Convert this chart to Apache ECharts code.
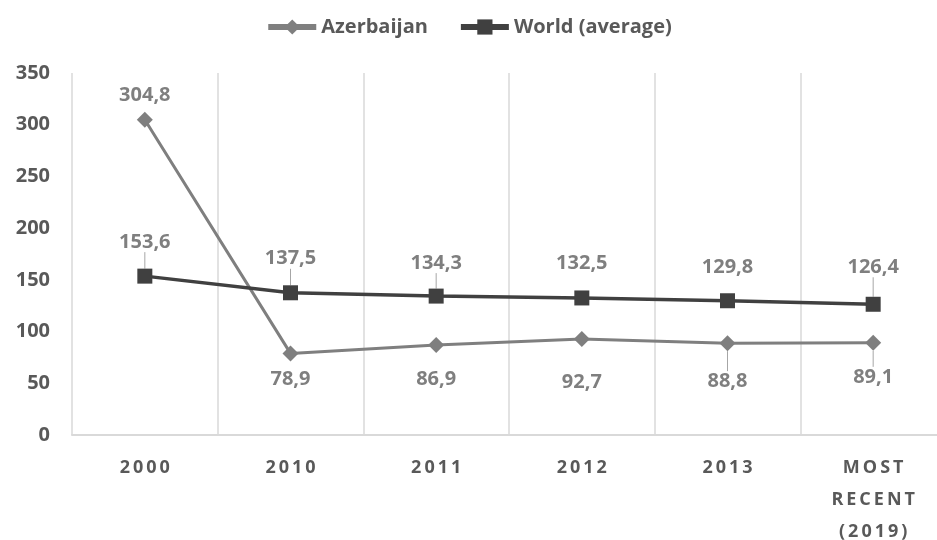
<!DOCTYPE html>
<html>
<head>
<meta charset="utf-8">
<script src="https://cdn.jsdelivr.net/npm/echarts@6/dist/echarts.min.js"></script>
<style>
    html, body { margin: 0; padding: 0; background: #fff; }
    #chart { width: 937px; height: 540px; }
</style>
</head>
<body>
<div id="chart"></div>
<script>
//categories and series values
const years = ["2000", "2010", "2011", "2012", "2013", "MOST\nRECENT\n(2019)"];
const azerbaijan = [304.8, 78.9, 86.9, 92.7, 88.8, 89.1];
const world = [153.6, 137.5, 134.3, 132.5, 129.8, 126.4];

//label offsets (px) and which points keep a leader line
const azOffset = [-24, 26, 34, 43, 38, 34];
const azLeader = [false, false, false, false, true, true];
const worldOffset = [-34, -34, -33, -35, -33, -37];
const worldLeader = [true, true, true, false, false, true];

const font = "'Open Sans', sans-serif";
const comma = v => String(v).replace(".", ",");
const spaced = s => s.split("\n").map(l => l.split("").join("\u2009")).join("\n");

const chart = echarts.init(document.getElementById("chart"));

function pointData(values, leaders) {
    return values.map((v, i) => ({
        value: v,
        labelLine: { show: leaders[i] }
    }));
}

const labelStyle = {
    show: true,
    position: "inside",
    color: "#7f7f7f",
    fontFamily: font,
    fontWeight: "bold",
    fontSize: 20,
    formatter: p => comma(p.value)
};

const option = {
    animation: false,
    legend: {
        top: 12,
        left: "center",
        itemWidth: 48,
        itemHeight: 19,
        itemGap: 30,
        lineStyle: { width: 6 },
        textStyle: { color: "#595959", fontFamily: font, fontWeight: "bold", fontSize: 20 },
        data: ["Azerbaijan", "World (average)"]
    },
    grid: { left: 72, right: -9, top: 73, bottom: 105, outerBoundsMode: "none", containLabel: false },
    xAxis: {
        type: "category",
        data: years,
        boundaryGap: true,
        axisTick: { show: false },
        axisLine: { lineStyle: { color: "#d9d9d9", width: 2 } },
        splitLine: { show: true, lineStyle: { color: "#d9d9d9", width: 1.5 } },
        axisLabel: {
            color: "#595959",
            fontFamily: font,
            fontWeight: "bold",
            fontSize: 18,
            lineHeight: 32,
            margin: 17,
            formatter: v => spaced(v)
        }
    },
    yAxis: {
        type: "value",
        min: 0,
        max: 350,
        interval: 50,
        axisLine: { show: false },
        axisTick: { show: false },
        splitLine: { show: false },
        axisLabel: { color: "#595959", fontFamily: font, fontWeight: "bold", fontSize: 20, margin: 22 }
    },
    series: [
        {
            name: "Azerbaijan",
            type: "line",
            data: pointData(azerbaijan, azLeader),
            symbol: "diamond",
            symbolSize: 16,
            lineStyle: { color: "#7f7f7f", width: 3 },
            itemStyle: { color: "#7f7f7f" },
            label: labelStyle,
            labelLine: { lineStyle: { color: "#a6a6a6", width: 1 } },
            labelLayout: p => ({ dy: azOffset[p.dataIndex] })
        },
        {
            name: "World (average)",
            type: "line",
            data: pointData(world, worldLeader),
            symbol: "rect",
            symbolSize: 15,
            lineStyle: { color: "#404040", width: 3.5 },
            itemStyle: { color: "#404040" },
            label: labelStyle,
            labelLine: { lineStyle: { color: "#a6a6a6", width: 1 } },
            labelLayout: p => ({ dy: worldOffset[p.dataIndex] })
        }
    ]
};

chart.setOption(option);
</script>
</body>
</html>
